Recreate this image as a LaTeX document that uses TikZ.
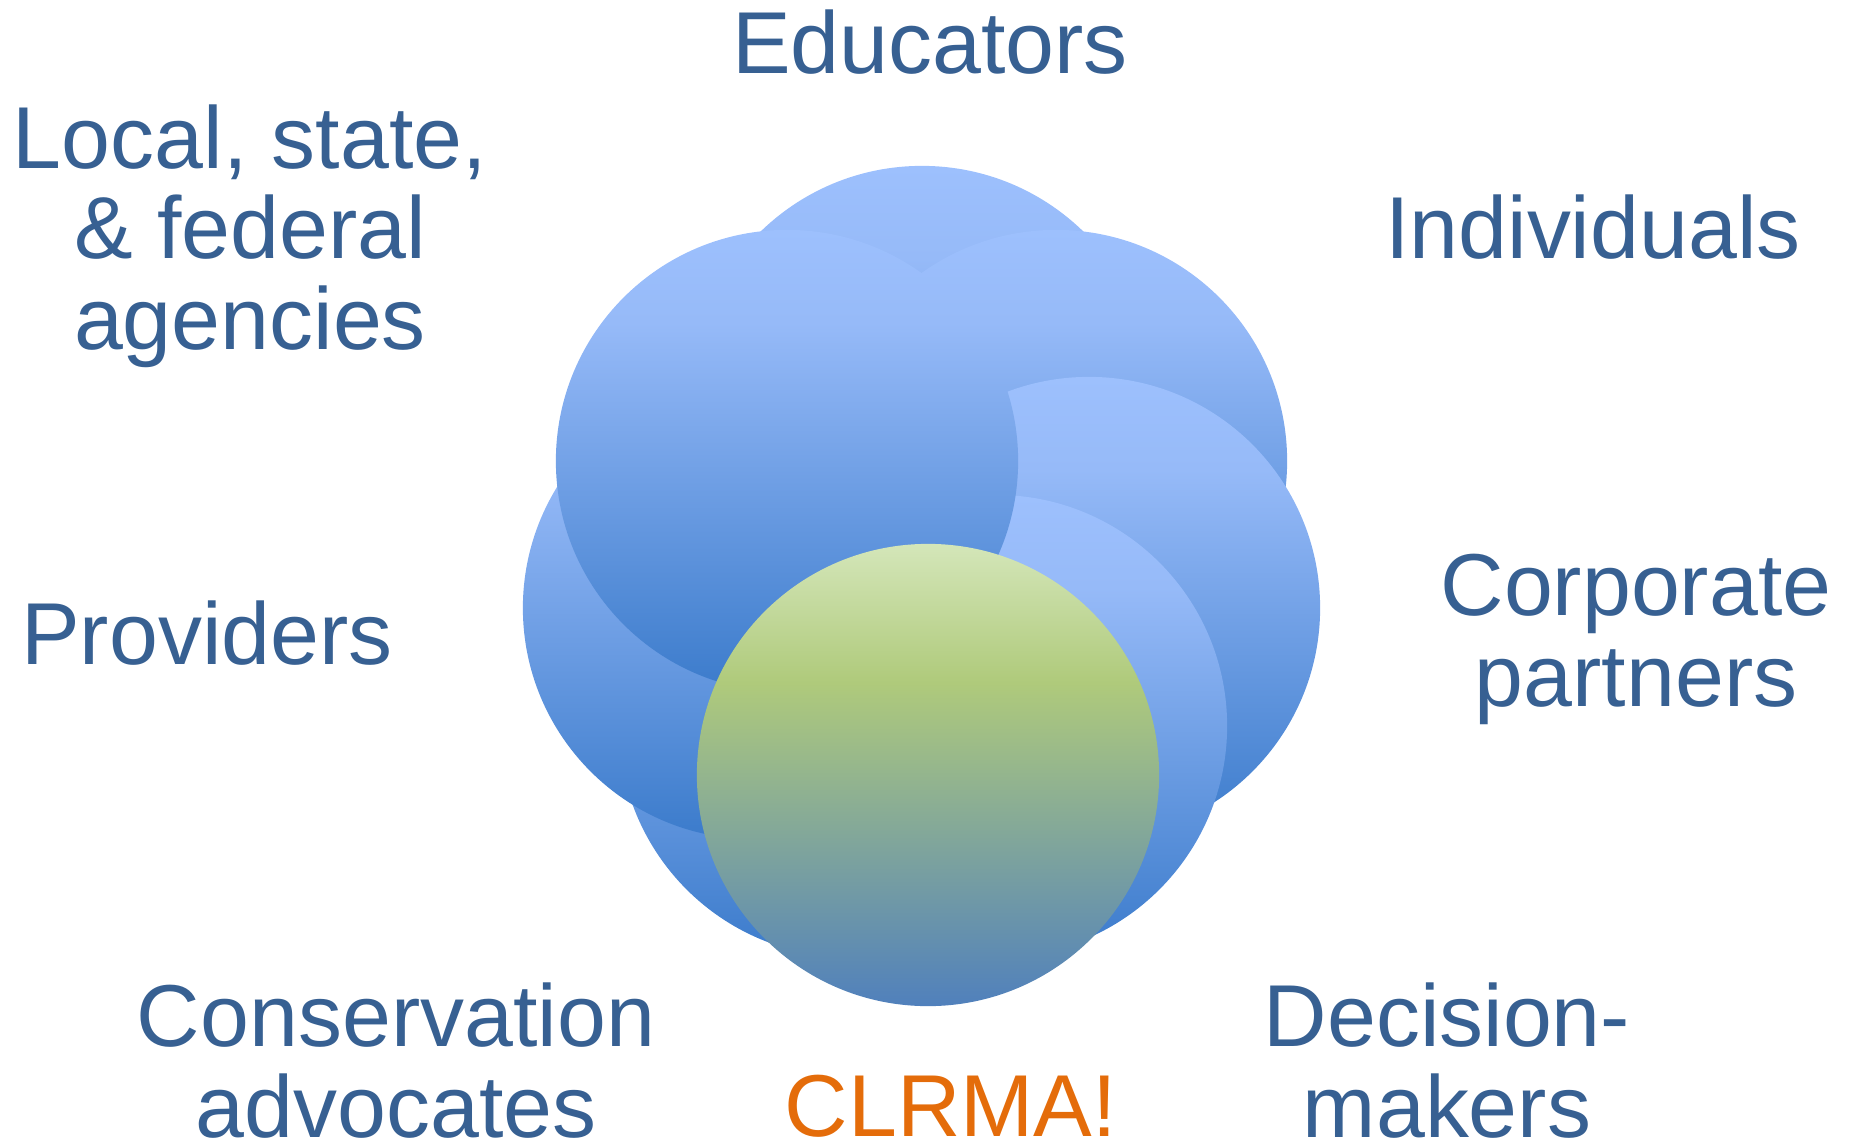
\documentclass[tikz,border=0pt]{standalone}
\usepackage{fontspec}
\setmainfont{Liberation Sans}
\definecolor{txtblue}{HTML}{376092}
\definecolor{txtorange}{HTML}{E46C0A}
\definecolor{btop}{HTML}{9DC0FD}
\definecolor{bup}{HTML}{96BAF8}
\definecolor{bbot}{HTML}{3B7BCB}
\definecolor{gtop}{HTML}{D4E6B9}
\definecolor{gmid}{HTML}{AFCA7B}
\definecolor{gbot}{HTML}{5080BC}
\pgfdeclareverticalshading{blueshade}{100bp}{color(0bp)=(bbot); color(25bp)=(bbot); color(65bp)=(bup); color(75bp)=(btop); color(100bp)=(btop)}
\pgfdeclareverticalshading{greenshade}{100bp}{color(0bp)=(gbot); color(25bp)=(gbot); color(60bp)=(gmid); color(75bp)=(gtop); color(100bp)=(gtop)}
\tikzset{
  bubble/.style={circle, inner sep=0pt, minimum size=4.62cm, shading=blueshade},
  centerbubble/.style={circle, inner sep=0pt, minimum size=4.62cm, shading=greenshade},
  label/.style={anchor=base, align=center, text=txtblue, inner sep=0pt,
    font=\fontsize{25}{25.6}\selectfont},
}
\begin{document}
\begin{tikzpicture}[x=0.01cm, y=-0.01cm]
\useasboundingbox (0,0) rectangle (1854,1145);
\node[bubble] (cT)  at (922,397) {};
\node[bubble] (cUR) at (1056,461) {};
\node[bubble] (cR)  at (1089,608) {};
\node[bubble] (cLR) at (996,726) {};
\node[bubble] (cLL) at (850,726) {};
\node[bubble] (cL)  at (754,608) {};
\node[bubble] (cUL) at (787,461) {};
\node[centerbubble] (cG) at (928,775) {};
\node[label] (educators) at (930,73) {Educators};
\node[label] (local) at (250,349) {Local, state,\\\& federal\\agencies};
\node[label] (individuals) at (1593,258) {Individuals};
\node[label] (providers) at (207,664) {Providers};
\node[label] (corporate) at (1636,706) {Corporate\\partners};
\node[label] (conservation) at (396,1137) {Conservation\\advocates};
\node[label, text=txtorange] (clrma) at (951,1136) {CLRMA!};
\node[label] (decision) at (1447,1137) {Decision-\\makers};
\end{tikzpicture}
\end{document}
